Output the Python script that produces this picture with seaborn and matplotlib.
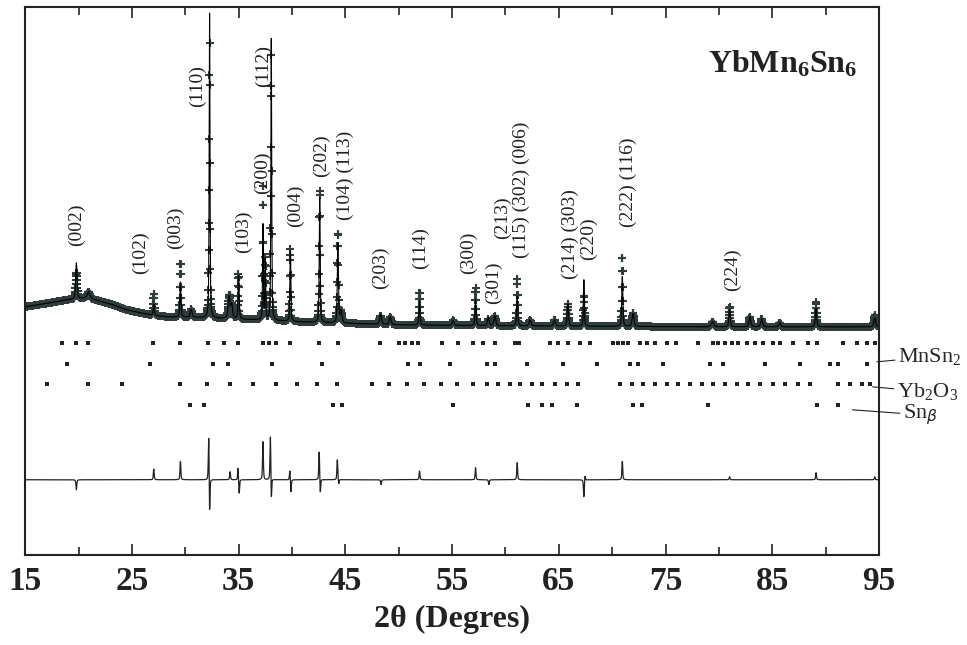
import numpy as np
import pandas as pd
import matplotlib
matplotlib.use("Agg")
import matplotlib.pyplot as plt
import seaborn as sns

# background of the pattern (2theta, intensity a.u.)
bg_2theta = [15.0, 17.3, 18.9, 20.8, 23.0, 24.5, 26.7, 28.3, 32.0, 40.8, 43.6, 50.0, 60.0, 80.0, 95.0]
bg_int = [248, 252, 255, 257, 251, 245, 240, 238, 237, 233, 232, 230, 229, 228, 228]

# calculated peaks: position, height above background, FWHM
peak_pos = [19.80, 20.95, 27.05, 29.55, 30.55, 32.28, 34.10, 34.35, 35.00, 37.28, 37.50,
            38.06, 39.85, 42.60, 44.30, 44.60, 48.30, 49.20, 51.95, 55.10, 57.20, 58.40,
            59.00, 61.10, 62.30, 64.60, 65.85, 67.35, 70.95, 71.95, 79.40, 81.00, 82.90,
            84.00, 85.70, 89.10, 94.60]
peak_h = [36, 6, 11, 36, 8, 305, 22, 14, 43, 95, 60,
          282, 73, 125, 80, 12, 10, 8, 24, 5, 26, 8,
          10, 30, 6, 6, 22, 48, 51, 13, 5, 17, 10,
          8, 4, 18, 9]
peak_w = [0.15, 0.30, 0.12, 0.12, 0.20, 0.09, 0.20, 0.20, 0.12, 0.09, 0.09,
          0.09, 0.10, 0.10, 0.12, 0.20, 0.20, 0.20, 0.12, 0.20, 0.12, 0.20,
          0.20, 0.12, 0.20, 0.20, 0.15, 0.10, 0.12, 0.20, 0.25, 0.15, 0.20,
          0.20, 0.20, 0.15, 0.20]

# difference curve (obs - calc) spikes
diff_pos = [19.80, 27.05, 29.55, 32.20, 32.28, 34.20, 34.95, 35.05, 37.28, 37.98, 38.06,
            39.80, 39.90, 42.55, 42.65, 44.25, 44.38, 48.35, 51.95, 57.20, 58.45, 61.10,
            67.35, 67.45, 70.95, 81.00, 89.10, 94.60]
diff_amp = [-10, 11, 19, 48, -38, 8, 13, -15, 38, 47, -25,
            10, -13, 30, -15, 21, -5, -5, 9, 12, -5, 17,
            -18, 5, 19, 3, 7, 3]
diff_offset = 75

# Bragg reflection positions of each phase
refl_main = [18.47, 19.78, 20.90, 26.99, 29.52, 32.14, 33.64, 34.95, 37.30, 37.86, 38.51,
             39.82, 42.54, 44.32, 48.26, 50.03, 50.60, 51.25, 51.81, 54.06, 55.56, 56.97,
             57.90, 59.03, 60.90, 61.25, 64.18, 64.93, 65.87, 66.99, 67.93, 70.08, 70.55,
             71.02, 71.49, 72.61, 73.27, 74.02, 75.14, 75.98, 78.04, 79.45, 79.92, 80.57,
             81.23, 81.79, 82.63, 83.38, 84.13, 85.07, 85.72, 86.94, 88.35, 89.19, 91.62,
             92.94, 93.87, 94.62]
refl_mnsn2 = [18.93, 26.71, 32.61, 34.02, 38.14, 42.82, 50.88, 52.00, 54.81, 58.28, 59.03,
              62.03, 65.40, 68.58, 71.67, 72.42, 74.77, 79.17, 80.39, 84.32, 87.60, 90.41,
              91.16, 93.87]
refl_yb2o3 = [17.06, 20.90, 24.09, 29.52, 32.05, 34.20, 36.36, 38.51, 40.48, 42.35, 44.23,
              47.51, 49.10, 50.78, 52.38, 53.97, 55.47, 56.97, 58.28, 59.31, 60.43, 61.37,
              62.49, 63.43, 64.65, 65.77, 66.80, 70.74, 71.86, 72.89, 74.02, 75.14, 76.17,
              77.29, 78.42, 79.45, 80.57, 81.70, 82.73, 83.85, 85.07, 86.19, 87.41, 88.54,
              91.16, 92.28, 93.41, 94.16]
refl_sn = [30.46, 31.77, 43.85, 44.70, 55.09, 62.12, 63.43, 64.37, 66.71, 71.96, 72.80,
           78.98, 89.19, 91.16]
row_levels = [212, 191, 171, 150]

hkl_text = ["(002)", "(102)", "(003)", "(110)", "(103)", "(200)", "(112)", "(004)", "(202)",
            "(104) (113)", "(203)", "(114)", "(300)", "(301)", "(213)", "(115) (302) (006)",
            "(214) (303)", "(220)", "(222) (116)", "(224)"]
hkl_x = [19.78, 25.77, 29.05, 31.11, 35.42, 37.20, 37.30, 40.29, 42.73, 44.98, 48.26, 52.00,
         56.50, 58.84, 59.68, 61.45, 66.05, 67.74, 71.49, 81.23]
hkl_y = [330, 302, 327, 469, 323, 382, 489, 349, 399, 380, 287, 307, 302, 272, 337, 365,
         321, 316, 373, 285]


def pvoigt(x, pos, fwhm, eta=0.5):
    d = (x - pos) / (fwhm / 2)
    return eta / (1 + d ** 2) + (1 - eta) * np.exp(-np.log(2) * d ** 2)


tt = np.arange(15.0, 95.0, 0.02)
background = np.interp(tt, bg_2theta, bg_int)
calc = background.copy()
for p, h, w in zip(peak_pos, peak_h, peak_w):
    calc += h * pvoigt(tt, p, w)
resid = np.zeros_like(tt)
for p, a in zip(diff_pos, diff_amp):
    resid += a * pvoigt(tt, p, 0.09)
obs = calc + resid

df = pd.DataFrame({"tt": tt, "obs": obs, "calc": calc, "diff": resid + diff_offset})

sns.set_theme(style="white")
plt.rcParams["font.family"] = ["Liberation Serif", "DejaVu Serif"]
plt.rcParams["mathtext.fontset"] = "custom"
plt.rcParams["mathtext.rm"] = "Liberation Serif"
plt.rcParams["mathtext.bf"] = "Liberation Serif:bold"

fig = plt.figure(figsize=(9.67, 6.45), dpi=100)
ax = fig.add_axes([0.026, 0.140, 0.883, 0.849])

ink = "#2f3d3d"
sns.scatterplot(data=df, x="tt", y="obs", marker="+", s=34, color=ink, linewidth=1.5,
                edgecolor=ink, ax=ax, legend=False)
sns.lineplot(data=df, x="tt", y="calc", color="black", linewidth=0.8, ax=ax,
             estimator=None, sort=False)
sns.lineplot(data=df, x="tt", y="diff", color="#222222", linewidth=0.9, ax=ax,
             estimator=None, sort=False)

for refl, lvl in zip([refl_main, refl_mnsn2, refl_yb2o3, refl_sn], row_levels):
    sns.scatterplot(x=refl, y=[lvl] * len(refl), marker="s", s=12, color="#222222",
                    linewidth=0, ax=ax, legend=False)

for t, x, y in zip(hkl_text, hkl_x, hkl_y):
    ax.text(x, y, t, rotation=90, ha="center", va="center", fontsize=14, color="#222222")

ax.text(79.0, 483, r"$\mathbf{YbMn_6Sn_6}$", fontsize=23, color="#222222", va="baseline")

# phase labels on the right
ax.annotate(r"MnSn$_2$", xy=(94.8, 193), xytext=(96.8, 198), fontsize=16, va="center",
            annotation_clip=False, arrowprops=dict(arrowstyle="-", lw=0.8, color="#222222",
                                                   shrinkA=0, shrinkB=0))
ax.annotate(r"Yb$_2$O$_3$", xy=(94.4, 168), xytext=(96.7, 163), fontsize=16, va="center",
            annotation_clip=False, arrowprops=dict(arrowstyle="-", lw=0.8, color="#222222",
                                                   shrinkA=0, shrinkB=0))
ax.annotate(r"Sn$_\beta$", xy=(92.5, 145), xytext=(97.25, 140), fontsize=16, va="center",
            annotation_clip=False, arrowprops=dict(arrowstyle="-", lw=0.8, color="#222222",
                                                   shrinkA=0, shrinkB=0))

ax.set_xlim(15, 95)
ax.set_ylim(0, 548)
ax.set_xticks(range(15, 96, 10))
ax.set_xticks(range(20, 95, 10), minor=True)
ax.set_yticks([])
ax.tick_params(axis="x", which="both", direction="in", top=True, bottom=True,
               colors="#222222", width=1.2)
ax.tick_params(axis="x", which="major", length=8, labelsize=24, pad=8)
ax.tick_params(axis="x", which="minor", length=6)
for lbl in ax.get_xticklabels():
    lbl.set_fontweight("bold")
ax.set_xlabel("2θ (Degres)", fontsize=23, fontweight="bold", labelpad=6, color="#222222")
ax.set_ylabel("")
for s in ax.spines.values():
    s.set_color("#222222")
    s.set_linewidth(1.5)

fig.savefig("out.png", dpi=100)
